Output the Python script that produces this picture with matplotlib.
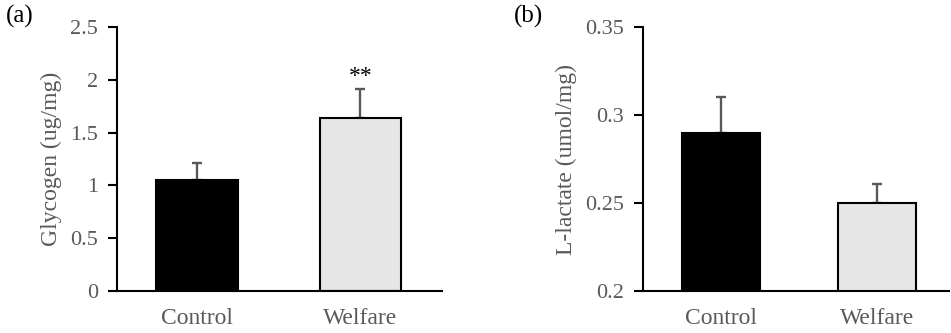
import numpy as np
import matplotlib.pyplot as plt

# data
groups = ['Control', 'Welfare']
glycogen = [1.05, 1.64]
glycogen_err = [0.16, 0.27]
lactate = [0.29, 0.25]
lactate_err = [0.02, 0.011]
bar_colors = ['black', '#e6e6e6']

plt.rcParams['font.family'] = ['Liberation Serif', 'DejaVu Serif']
grey = '#595959'

fig = plt.figure(figsize=(9.51, 3.33), dpi=100)
ax1 = fig.add_axes([0.123, 0.126, 0.342, 0.793])
ax2 = fig.add_axes([0.676, 0.126, 0.322, 0.793])


def draw_panel(ax, vals, errs, ylim, yticks, yticklabels, ylabel, xlim):
    x = np.arange(len(groups))
    ax.bar(x, vals, width=0.5, color=bar_colors, edgecolor='black', linewidth=1.5, zorder=2)
    ax.errorbar(x, vals, yerr=[np.zeros(len(errs)), errs], fmt='none',
                ecolor=grey, elinewidth=1.7, capsize=3.6, capthick=1.7, zorder=1)
    ax.set_ylim(ylim)
    ax.set_xlim(xlim)
    ax.set_yticks(yticks)
    ax.set_yticklabels(yticklabels)
    ax.set_xticks(x)
    ax.set_xticklabels(groups)
    ax.set_ylabel(ylabel, color=grey, fontsize=17, labelpad=6)
    for s in ['top', 'right']:
        ax.spines[s].set_visible(False)
    for s in ['left', 'bottom']:
        ax.spines[s].set_linewidth(1.5)
    ax.tick_params(axis='y', direction='out', length=6.5, width=1.5, pad=7,
                   labelsize=16, labelcolor=grey)
    ax.tick_params(axis='x', length=0, pad=12, labelsize=17, labelcolor=grey)
    return x


x = draw_panel(ax1, glycogen, glycogen_err, (0, 2.5), [0, 0.5, 1, 1.5, 2, 2.5],
               ['0', '0.5', '1', '1.5', '2', '2.5'], 'Glycogen (ug/mg)', (-0.49, 1.5))
ax1.text(x[1], glycogen[1] + glycogen_err[1] + 0.02, '**', ha='center', va='bottom',
         fontsize=17, color='black')

draw_panel(ax2, lactate, lactate_err, (0.2, 0.35), [0.2, 0.25, 0.3, 0.35],
           ['0.2', '0.25', '0.3', '0.35'], 'L-lactate (umol/mg)', (-0.5, 1.46))

fig.text(0.006, 0.985, '(a)', fontsize=18, va='top', ha='left')
fig.text(0.540, 0.985, '(b)', fontsize=18, va='top', ha='left')

fig.savefig('out.png', dpi=100)
